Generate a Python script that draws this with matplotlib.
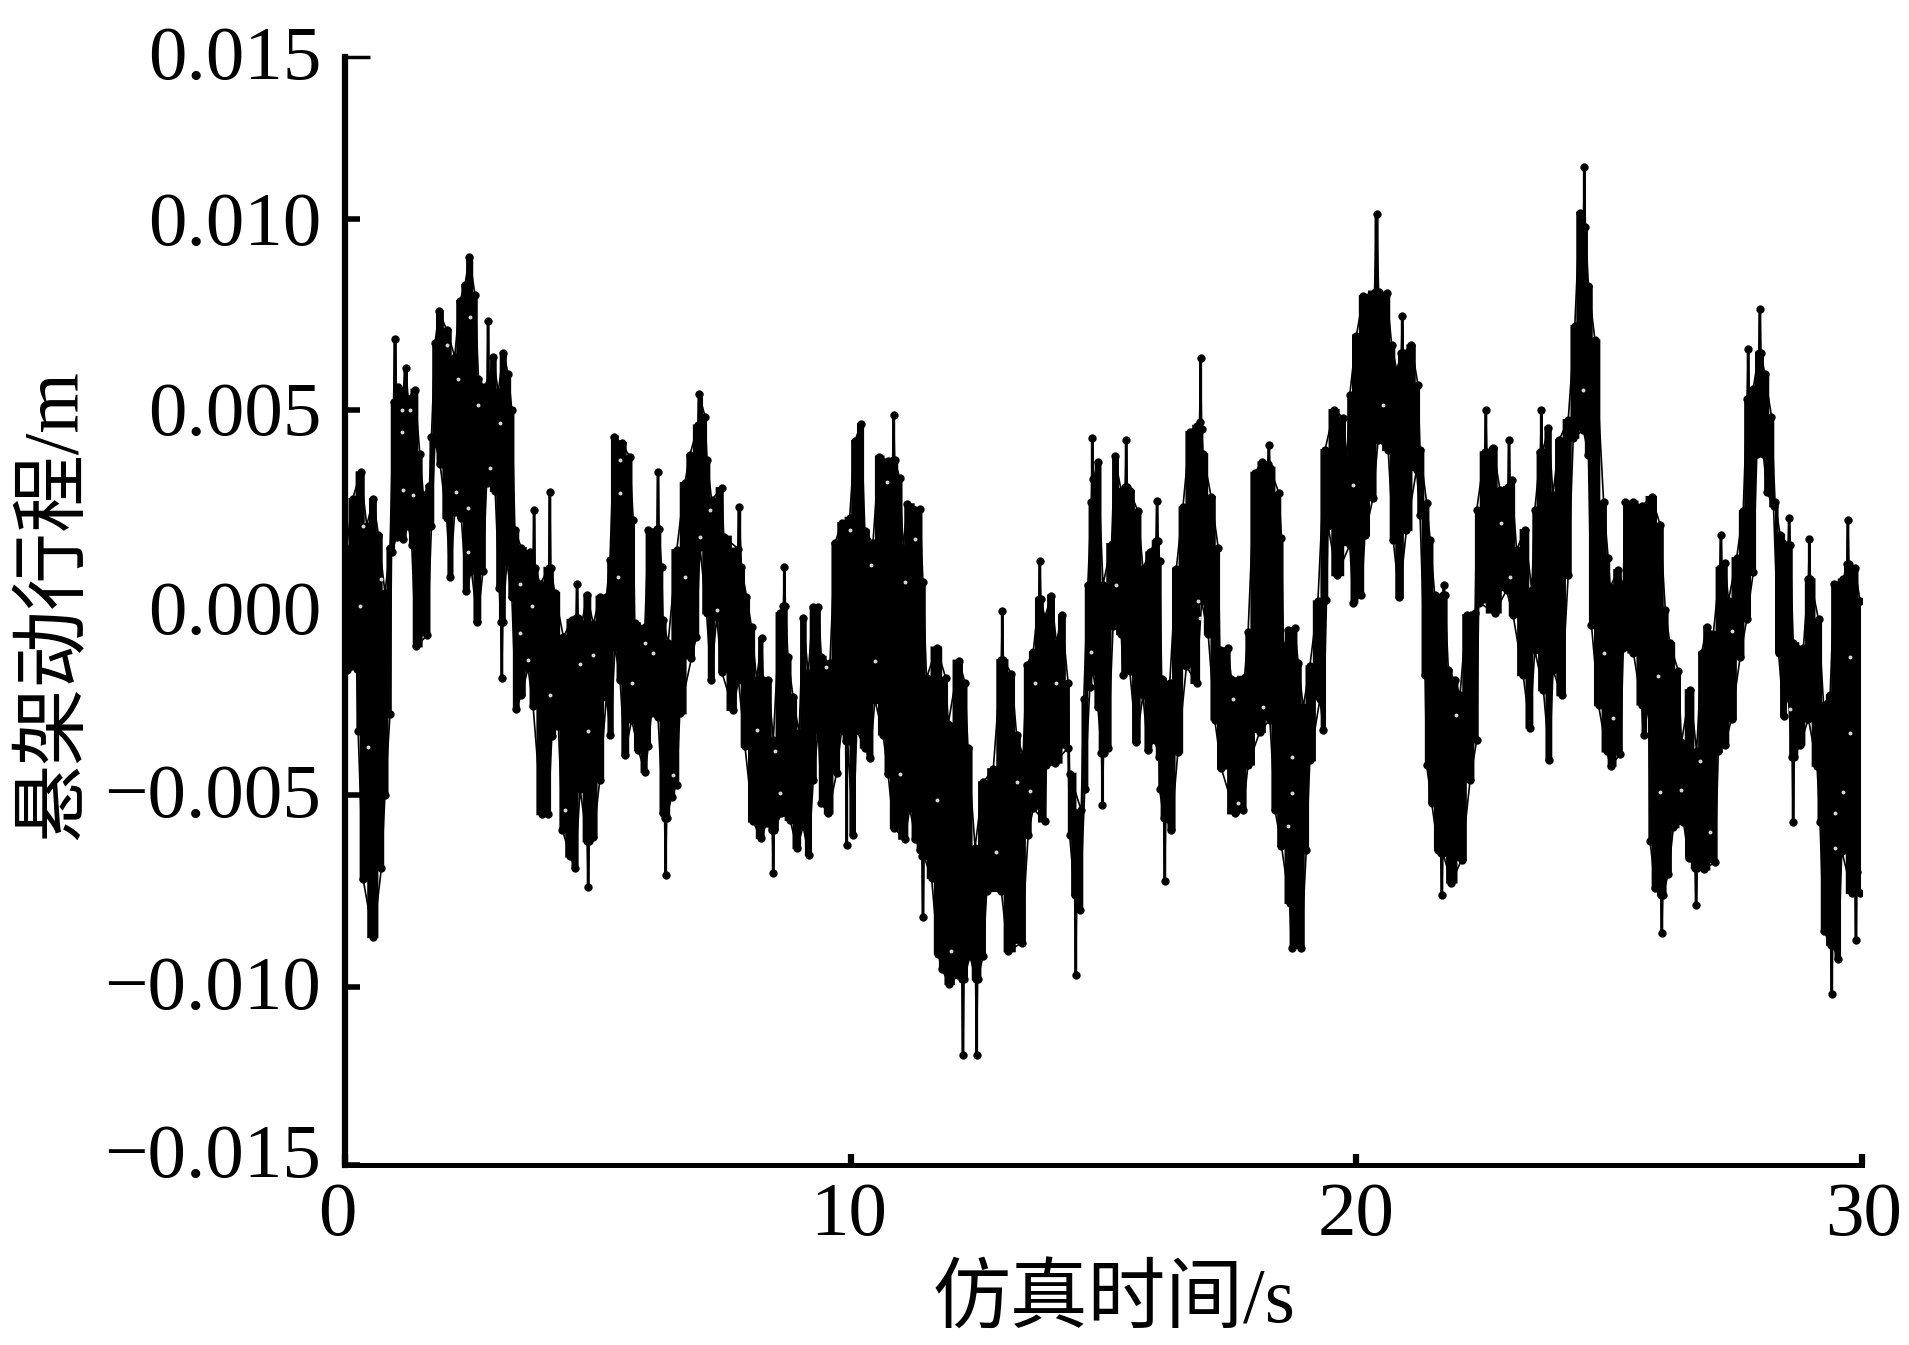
import numpy as np
from matplotlib import pyplot as plt
from matplotlib.transforms import ScaledTranslation

plt.rcParams['font.family'] = ['Liberation Serif', 'Noto Sans CJK SC']

# Outline of the dense trace (time in s, travel in mm)
upper_t = [0.0, 0.03, 0.15, 0.31, 0.43, 0.56, 0.66, 0.79, 0.89, 0.96, 0.99, 1.02, 1.05, 1.15, 1.2, 1.25, 1.38, 1.48, 1.55, 1.67, 1.71, 1.78, 1.86, 2.01, 2.17, 2.27, 2.37, 2.46, 2.57, 2.64, 2.75, 2.81, 2.83, 2.85, 2.93, 3.03, 3.13, 3.23, 3.3, 3.36, 3.49, 3.66, 3.72, 3.74, 3.76, 3.86, 4.03, 4.05, 4.07, 4.15, 4.32, 4.48, 4.57, 4.59, 4.61, 4.68, 4.79, 4.91,
           5.04, 5.17, 5.24, 5.32, 5.47, 5.63, 5.7, 5.73, 5.93, 6.0, 6.17, 6.19, 6.21, 6.26, 6.29, 6.39, 6.56, 6.72, 6.82, 6.98, 7.0, 7.12, 7.16, 7.25, 7.45, 7.49, 7.77, 7.79, 7.84, 7.94, 8.04, 8.14, 8.24, 8.27, 8.37, 8.47, 8.6, 8.67, 8.69, 8.71, 8.76, 8.86, 8.98, 9.06, 9.16, 9.26, 9.36, 9.42, 9.59, 9.69, 9.82, 9.98,
           10.08, 10.21, 10.28, 10.44, 10.56, 10.74, 10.83, 10.85, 10.87, 10.97, 11.04, 11.12, 11.37, 11.43, 11.5, 11.7, 11.88, 11.93, 12.14, 12.26, 12.32, 12.46, 12.62, 12.82, 12.98, 13.0, 13.02, 13.18, 13.28, 13.41, 13.48, 13.61, 13.72, 13.74, 13.76, 13.84, 13.97, 14.07, 14.17, 14.3, 14.33, 14.56,
           14.61, 14.69, 14.76, 14.78, 14.8, 14.89, 14.99, 15.16, 15.22, 15.35, 15.43, 15.45, 15.47, 15.52, 15.68, 15.78, 15.91, 16.04, 16.06, 16.08, 16.11, 16.15, 16.31, 16.44, 16.57, 16.71, 16.84, 16.9, 16.92, 16.94, 16.97, 17.13, 17.27, 17.3, 17.46, 17.53, 17.79, 17.86, 17.99, 18.14, 18.25, 18.27, 18.29, 18.47, 18.52, 18.56, 18.65, 18.78, 18.85, 18.95, 19.08, 19.24,
           19.38, 19.56, 19.74, 19.81, 19.87, 20.0, 20.14, 20.36, 20.4, 20.44, 20.5, 20.6, 20.7, 20.8, 20.89, 20.91, 20.93, 21.09, 21.22, 21.26, 21.39, 21.46, 21.55, 21.71, 21.73, 21.75, 21.82, 21.95, 22.05, 22.18, 22.35, 22.38, 22.54, 22.56, 22.58, 22.71, 22.84, 23.0, 23.02, 23.04, 23.07, 23.17, 23.33, 23.47, 23.53, 23.64, 23.66, 23.68, 23.8, 23.89, 24.01, 24.19, 24.32, 24.42, 24.49, 24.51, 24.53, 24.59, 24.72,
           24.89, 24.98, 25.02, 25.18, 25.28, 25.31, 25.48, 25.64, 25.84, 26.01, 26.11, 26.2, 26.37, 26.43, 26.6, 26.73, 26.83, 26.93, 27.06, 27.19, 27.21, 27.23, 27.29, 27.36, 27.52, 27.65, 27.73, 27.75, 27.77, 27.85, 27.96, 27.98, 28.0, 28.08, 28.21, 28.28, 28.38, 28.54, 28.56, 28.58, 28.64, 28.84, 28.94, 28.96, 28.98, 29.14, 29.24, 29.37, 29.45, 29.63, 29.7, 29.72, 29.74, 29.86, 29.96]
upper_v = [0.6, 1.41, 2.69, 3.38, 2.0, 2.69, 1.76, 0.25, 1.41, 5.2, 6.86, 5.4, 5.6, 5.5, 6.1, 5.3, 5.53, 3.85, 2.8, 3.03, 4.31, 6.75, 7.58, 7.1, 6.4, 7.85, 8.26, 9.0, 8.02, 5.82, 5.6, 5.6, 7.33, 5.7, 6.4, 5.47, 6.5, 5.94, 5.0, 1.88, 1.41, 1.3, 0.9, 2.4, 0.9, 0.48, 0.9, 2.86, 0.9, 0.25, -0.9, -0.45, -0.4, 0.48, -0.4, -0.56, 0.2, -0.56,
           0.15, 0.15, 1.1, 4.31, 4.14, 3.79, 2.14, -0.54, -0.63, 1.88, 1.9, 3.4, 1.9, 0.93, -0.45, -1.06, 1.36, 3.1, 3.83, 4.6, 5.43, 4.83, 3.7, 2.66, 2.97, 1.71, 1.4, 2.49, 0.93, 0.15, -0.63, -2.01, -0.93, -2.01, -2.01, -3.57, -0.28, -0.1, 0.93, -0.1, -1.41, -2.45, -3.4, -0.41, -1.84, -0.11, -0.11, -1.41, -1.58, 1.54, 2.06, 2.2,
           4.19, 4.64, 1.87, 1.54, 3.79, 3.68, 3.7, 4.86, 3.7, 3.23, 1.42, 2.55, 2.44, 0.52, -1.96, -1.17, -1.96, -3.15, -1.51, -2.08, -3.77, -6.37, -4.67, -4.33, -1.5, -0.21, -1.5, -1.85, -3.43, -3.99, -1.62, -1.29, 0.1, 1.08, 0.1, -0.38, 0.18, -1.06, -0.33, -2.08, -4.45, -5.4,
           -2.5, 0.46, 2.6, 4.27, 3.2, 3.64, 0.46, 1.52, 3.8, 2.9, 3.0, 4.22, 3.0, 2.9, 2.37, 0.88, 1.3, 1.6, 2.63, 1.6, 1.09, -1.98, -2.09, 0.88, 2.47, 4.43, 4.59, 4.7, 6.37, 4.5, 3.85, 2.74, 1.41, -1.24, -1.19, -1.98, -1.93, -0.76, 3.37, 3.64, 3.6, 4.08, 3.5, 2.84, 1.68, -1.24, -0.71, -0.66, -1.56, -2.72, -1.66, 0.03,
           3.96, 5.0, 4.8, 3.7, 5.39, 6.95, 7.98, 8.1, 10.15, 8.1, 7.98, 8.05, 6.69, 6.04, 6.5, 7.46, 6.5, 6.69, 5.65, 3.96, 2.59, 1.62, 0.19, 0.2, 0.45, 0.2, -1.76, -2.02, -2.41, -0.33, -0.26, 2.4, 3.9, 5.0, 3.9, 4.02, 2.92, 3.0, 4.22, 3.0, 3.18, 1.36, 1.88, 0.32, 2.4, 3.9, 5.0, 3.9, 4.54, 2.79, 4.22, 4.74, 7.2, 10.2, 9.8, 11.6, 9.8, 8.24, 6.82,
           2.62, 1.15, 0.41, 0.84, 0.41, 2.62, 2.62, 2.5, 2.74, 2.01, -0.2, -1.06, -1.79, -3.63, -2.28, -3.87, -1.3, -0.63, -0.81, 0.9, 1.76, 0.9, 1.03, 0.05, 1.15, 2.37, 5.3, 6.6, 5.3, 5.56, 6.5, 7.64, 6.5, 5.93, 4.83, 2.62, 1.76, 1.5, 2.19, 1.5, -1.06, -1.18, 0.6, 1.64, 0.6, -0.44, -2.65, -2.4, 0.48, 0.6, 1.0, 2.13, 1.0, 0.9, 0.05]

lower_t = [0.0, 0.03, 0.23, 0.26, 0.36, 0.56, 0.72, 0.79, 0.89, 0.92, 1.02, 1.15, 1.25, 1.32, 1.4, 1.63, 1.71, 1.78, 1.88, 2.01, 2.08, 2.17, 2.3, 2.4, 2.5, 2.62, 2.73, 2.8, 2.97, 3.05, 3.08, 3.1, 3.12, 3.2, 3.3, 3.38, 3.49, 3.62, 3.72, 3.89, 4.02, 4.09, 4.22, 4.3, 4.45, 4.55, 4.65, 4.79, 4.81, 4.83, 4.91,
           5.04, 5.17, 5.25, 5.34, 5.44, 5.53, 5.67, 5.8, 5.93, 6.0, 6.06, 6.19, 6.29, 6.32, 6.34, 6.36, 6.46, 6.56, 6.62, 6.85, 6.95, 7.02, 7.15, 7.24, 7.35, 7.45, 7.68, 7.78, 7.91, 8.07, 8.22, 8.34, 8.45, 8.47, 8.49, 8.63, 8.8, 8.94, 9.06, 9.17, 9.26, 9.36, 9.42, 9.56, 9.72, 9.82, 9.9, 9.92, 9.94,
           10.05, 10.12, 10.28, 10.38, 10.48, 10.64, 10.74, 10.85, 11.07, 11.17, 11.28, 11.37, 11.41, 11.43, 11.45, 11.6, 11.73, 11.8, 11.95, 12.13, 12.2, 12.22, 12.24, 12.36, 12.47, 12.49, 12.51, 12.62, 12.69, 12.98, 13.11, 13.38, 13.51, 13.61, 13.84, 13.87, 14.04, 14.3, 14.33, 14.43, 14.45, 14.47, 14.53,
           14.63, 14.73, 14.79, 14.89, 14.96, 14.98, 15.0, 15.09, 15.19, 15.35, 15.39, 15.52, 15.65, 15.78, 15.88, 16.01, 16.1, 16.11, 16.19, 16.21, 16.23, 16.34, 16.47, 16.64, 16.84, 16.94, 17.07, 17.2, 17.33, 17.6, 17.76, 17.86, 18.09, 18.29, 18.39, 18.52, 18.68, 18.72, 18.91, 19.01, 19.08, 19.28,
           19.35, 19.41, 19.44, 19.61, 19.87, 19.94, 20.1, 20.17, 20.33, 20.43, 20.63, 20.73, 20.85, 20.99, 21.19, 21.26, 21.36, 21.39, 21.49, 21.62, 21.67, 21.69, 21.71, 21.88, 22.08, 22.25, 22.38, 22.42, 22.74, 22.97, 23.1, 23.3, 23.43, 23.53, 23.7, 23.82, 23.89, 24.06, 24.19, 24.29, 24.49, 24.59, 24.65, 24.79,
           24.95, 25.03, 25.22, 25.28, 25.48, 25.64, 25.68, 25.78, 25.81, 25.91, 26.02, 26.04, 26.06, 26.17, 26.27, 26.47, 26.57, 26.7, 26.72, 26.74, 26.87, 27.09, 27.16, 27.29, 27.42, 27.59, 27.72, 27.85, 27.92, 28.05, 28.12, 28.25, 28.35, 28.45, 28.54, 28.62, 28.64, 28.66, 28.78, 28.94, 29.11, 29.17, 29.24, 29.38, 29.4, 29.42, 29.53, 29.6, 29.8, 29.86, 29.88, 29.9, 29.96]
lower_v = [-1.5, -1.75, -1.72, -3.35, -7.2, -8.7, -6.9, -5.0, -2.9, 1.3, 1.7, 1.64, 2.0, 1.5, -1.14, -0.85, 2.0, 4.2, 3.6, 2.2, 0.66, 2.34, 2.2, 0.3, 0.83, -0.5, 0.83, 3.1, 2.9, 0.37, -0.5, -1.95, -0.5, 1.06, 0.13, -2.76, -2.4, -1.7, -2.7, -5.5, -5.5, -3.46, -3.2, -5.9, -6.6, -6.9, -4.85, -6.2, -7.4, -6.2, -6.1,
           -4.6, -2.45, -3.44, -1.15, -2.0, -3.96, -3.05, -3.83, -4.4, -3.74, -2.88, -2.97, -5.48, -5.6, -7.08, -5.6, -5.04, -4.74, -2.88, -1.45, -0.89, 1.45, -0.28, -2.01, -0.37, -1.8, -2.79, -2.0, -3.74, -5.69, -6.12, -5.74, -5.9, -7.03, -5.9, -5.48, -5.65, -6.38, -5.82, -6.56, -4.61, -3.31, -5.22, -5.48, -4.44, -3.31, -3.6, -6.3, -3.6,
           -6.03, -3.32, -3.77, -4.05, -2.53, -3.43, -4.45, -5.86, -6.14, -5.35, -6.14, -6.42, -6.6, -8.17, -6.6, -7.16, -9.13, -9.53, -9.92, -9.7, -9.8, -11.9, -9.8, -9.19, -9.8, -11.9, -9.8, -9.19, -7.5, -7.5, -9.07, -8.85, -6.03, -5.35, -5.69, -4.22, -4.16, -3.77, -6.03, -7.6, -9.7, -7.6, -8.0,
           -4.85, -2.2, -1.77, -2.72, -3.9, -5.27, -3.9, -3.78, -0.6, -0.82, -1.88, -1.77, -3.63, -2.41, -3.84, -3.57, -4.0, -4.85, -5.6, -7.23, -5.6, -5.9, -3.89, -1.66, -2.09, 0.03, -0.82, -3.04, -4.31, -5.48, -5.38, -4.21, -3.36, -3.04, -5.38, -6.33, -7.81, -8.98, -8.98, -6.44, -4.1, -2.51,
           -3.32, 0.06, 2.0, 0.71, 1.49, 0.0, 0.19, 1.75, 2.72, 4.22, 3.96, 1.62, 0.13, 1.88, 3.44, 2.27, -1.89, -4.22, -5.2, -6.43, -6.5, -7.6, -6.5, -7.28, -6.69, -4.61, -3.58, 0.0, -0.26, 0.32, -0.33, -1.89, -3.25, -1.24, -2.28, -4.09, -1.76, -2.41, 0.71, 4.28, 4.48, 3.83, -0.59, -2.67,
           -3.87, -4.24, -3.94, -1.18, -1.3, -2.65, -3.45, -2.65, -6.2, -7.43, -7.6, -8.6, -7.6, -7.06, -5.84, -5.71, -6.63, -6.9, -7.86, -6.9, -6.94, -6.75, -3.87, -3.69, -3.02, -1.42, -0.44, 0.78, 3.85, 3.85, 2.87, 2.5, -1.3, -2.96, -2.4, -4.0, -5.71, -4.0, -3.69, -3.02, -4.24, -5.71, -8.53, -8.9, -10.2, -8.9, -9.27, -6.45, -7.55, -7.0, -8.77, -7.0, -7.55]

# Small gaps inside the black mass where the paper shows through
gap_t = [1.12, 1.12, 1.28, 1.15, 1.35, 2.01, 2.24, 2.64, 2.47, 2.87, 2.2, 2.44, 2.44, 3.06, 3.46, 3.62, 3.69, 4.05, 4.65, 4.81, 4.35, 0.3, 0.36, 0.72, 0.46, 3.46, 4.91,
         5.44, 5.44, 5.4, 5.67, 6.09, 5.93, 6.72, 7.22, 7.02, 7.35, 8.5, 8.14, 8.6, 9.52, 9.98, 6.49,
         10.41, 10.71, 11.27, 11.07, 10.48, 10.97, 11.7, 11.99, 12.88, 13.28, 14.07, 13.64, 13.54,
         14.76, 15.25, 16.87, 16.9, 17.56, 18.16, 18.72, 18.72, 18.65, 17.66,
         20.53, 19.94, 22.87, 23.04, 24.49, 21.98,
         25.97, 26.01, 26.8, 26.43, 27.0, 27.42, 29.76, 29.63, 29.47, 29.47, 29.76, 28.58, 25.08, 24.89]
gap_v = [5.0, 4.43, 5.0, 2.92, 2.8, 6.7, 5.82, 5.12, 7.44, 3.5, 2.86, 2.45, 1.3, 4.66, 0.48, -1.49, -0.1, -2.4, -1.6, -3.35, -5.4, -0.1, 1.99, 0.6, -3.75, -0.8, -1.37,
         3.7, 2.84, 0.67, -2.1, -1.32, -1.06, 0.67, 2.4, 1.71, -0.19, -3.87, -3.31, -4.96, -1.67, 1.88, -4.48,
         0.97, 3.12, 1.65, 0.52, -1.51, -4.45, -5.12, -9.07, -6.48, -4.67, -2.08, -2.08, -4.9,
         -1.29, 0.46, 0.03, -0.39, -2.51, -2.72, -4.95, -4.0, -5.8, -5.22,
         5.13, 3.05, 2.07, 0.65, 5.52, -2.93,
         -1.91, -4.92, -4.12, -4.86, -5.96, -0.75, -1.42, -4.92, -5.47, -6.39, -3.38, -2.77, -3.0, -1.3]

x_ticks = [0, 10, 20, 30]
y_ticks = [-0.015, -0.010, -0.005, 0.0, 0.005, 0.010, 0.015]
y_labels = ['\u22120.015', '\u22120.010', '\u22120.005', '0.000', '0.005', '0.010', '0.015']

# The printed y axis is not evenly spaced at its two ends: height of each tick in the image
tick_heights = [0, 178, 370, 562.5, 755, 946, 1108]

def y_forward(v):
    return np.interp(v, y_ticks, tick_heights)

def y_inverse(h):
    return np.interp(h, tick_heights, y_ticks)

# Hold each outline value up to the midpoints, towers in the trace have vertical sides
def steps_mid(t, v):
    mid = (t[1:] + t[:-1]) / 2
    return np.r_[t[0], np.repeat(mid, 2), t[-1]], np.repeat(v, 2)

fig = plt.figure(figsize=(19.09, 13.45), dpi=100)
ax = fig.add_axes([345 / 1909, 1 - 1165 / 1345, (1862 - 345) / 1909, 1108 / 1345])
ax.set_yscale('function', functions=(y_forward, y_inverse))

up_t = np.array(upper_t)
up_v = np.array(upper_v) / 1000
lo_t = np.array(lower_t)
lo_v = np.array(lower_v) / 1000

# Trace is too dense to separate, so fill between its outlines and dot the edges
up_x, up_y = steps_mid(up_t, up_v)
lo_x, lo_y = steps_mid(lo_t, lo_v)
ax.fill(np.r_[up_x, lo_x[::-1]], np.r_[up_y, lo_y[::-1]], color='black', lw=1.5, zorder=2)
ax.plot(up_t, up_v, color='black', lw=1.2, marker='o', ms=5, zorder=3)
ax.plot(lo_t, lo_v, color='black', lw=1.2, marker='o', ms=5, zorder=3)
ax.plot(gap_t, np.array(gap_v) / 1000, ls='none', color='#d8d8d8', marker='o', ms=2.8, mew=0, zorder=4)

ax.set_xlim(0, 30)
ax.set_ylim(-0.015, 0.015)
ax.spines['top'].set_visible(False)
ax.spines['right'].set_visible(False)
ax.spines['left'].set_linewidth(4.5)
ax.spines['bottom'].set_linewidth(3.6)

ax.set_xticks(x_ticks)
ax.set_yticks(y_ticks)
ax.set_yticklabels(y_labels)
ax.minorticks_off()
ax.tick_params(axis='x', direction='in', length=8, width=4.5, labelsize=55.5, pad=12)
ax.tick_params(axis='y', direction='in', length=11, width=4, labelsize=55.5, pad=17)

# Top tick is longer and thinner than the others
top_tick = ax.yaxis.get_major_ticks()[-1].tick1line
top_tick.set_markersize(18)
top_tick.set_markeredgewidth(2.5)

# Labels do not sit exactly on their ticks in the original
for lab, dy in zip(ax.get_yticklabels(), [15, 4, 5, -5, 1, 1, 4]):
    lab.set_transform(lab.get_transform() + ScaledTranslation(0, dy / 100, fig.dpi_scale_trans))
for lab, dx in zip(ax.get_xticklabels(), [-8, -2, 0, 2]):
    lab.set_transform(lab.get_transform() + ScaledTranslation(dx / 100, 0, fig.dpi_scale_trans))

fig.text(1114 / 1909, 1 - 1303 / 1345, '仿真时间/s', fontsize=56, ha='center', va='center')
fig.text(56 / 1909, 1 - 605 / 1345, '悬架动行程/m', fontsize=56, ha='center', va='center', rotation=90)

plt.savefig('out.png', dpi=100)
